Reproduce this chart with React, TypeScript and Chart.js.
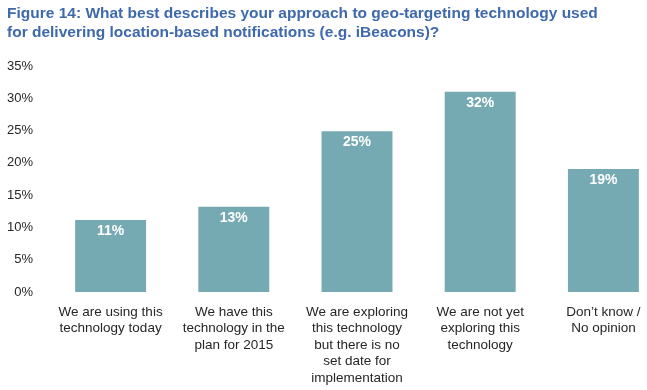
import React, { useEffect, useRef } from "react";
import { Chart, registerables } from "chart.js";

Chart.register(...registerables);

const titleLines = [
  "Figure 14: What best describes your approach to geo-targeting technology used",
  "for delivering location-based notifications (e.g. iBeacons)?",
];

const categories: string[][] = [
  ["We are using this", "technology today"],
  ["We have this", "technology in the", "plan for 2015"],
  ["We are exploring", "this technology", "but there is no", "set date for", "implementation"],
  ["We are not yet", "exploring this", "technology"],
  ["Don\u2019t know /", "No opinion"],
];

const values = [11.15, 13.2, 24.9, 31.0, 19.05];
const valueLabels = ["11%", "13%", "25%", "32%", "19%"];

const yTicks = { min: 0, max: 35, step: 5 };

const FONT = "'Liberation Sans', Arial, sans-serif";

const dataLabelPlugin = {
  id: "dataLabels",
  afterDatasetsDraw(chart: any) {
    const ctx = chart.ctx;
    const meta = chart.getDatasetMeta(0);
    ctx.save();
    ctx.fillStyle = "#ffffff";
    ctx.font = `bold 14px ${FONT}`;
    ctx.textAlign = "center";
    ctx.textBaseline = "middle";
    meta.data.forEach((el: any, i: number) => {
      ctx.fillText(valueLabels[i], el.x, el.y + 11);
    });
    ctx.restore();
  },
};

export default function App() {
  const ref = useRef<HTMLCanvasElement | null>(null);

  useEffect(() => {
    if (!ref.current) return;
    const chart = new Chart(ref.current, {
      type: "bar",
      data: {
        labels: categories,
        datasets: [
          {
            data: values,
            backgroundColor: "#76AAB3",
            borderWidth: 0,
            barPercentage: 0.576,
            categoryPercentage: 1,
          },
        ],
      },
      options: {
        animation: false,
        responsive: true,
        maintainAspectRatio: false,
        layout: { padding: { left: 7, right: 15, top: 0, bottom: 0 } },
        plugins: {
          legend: { display: false },
          tooltip: { enabled: false },
          title: {
            display: true,
            text: titleLines,
            align: "start",
            color: "#3E69AC",
            font: { family: FONT, size: 15.5, weight: "bold", lineHeight: 19.5 / 15.5 },
            padding: { top: 3.5, bottom: 23.5 },
          },
        },
        scales: {
          x: {
            grid: { display: false, drawTicks: false },
            border: { display: false },
            afterFit: (scale: any) => {
              scale.height = 98;
            },
            ticks: {
              autoSkip: false,
              maxRotation: 0,
              minRotation: 0,
              padding: 12,
              color: "#262626",
              font: { family: FONT, size: 13.5, lineHeight: 16.4 / 13.5 },
            },
          },
          y: {
            min: yTicks.min,
            max: yTicks.max,
            grid: { display: false, drawTicks: false },
            border: { display: false },
            afterFit: (scale: any) => {
              scale.width = 42;
            },
            ticks: {
              stepSize: yTicks.step,
              padding: 16,
              color: "#262626",
              font: { family: FONT, size: 13 },
              callback: (v: any) => `${v}%`,
            },
          },
        },
      },
      plugins: [dataLabelPlugin],
    });
    return () => chart.destroy();
  }, []);

  return (
    <div style={{ position: "absolute", left: 0, top: 0, width: 647, height: 390, overflow: "hidden", background: "#fff" }}>
      <div style={{ position: "relative", width: 680, height: 390 }}>
        <canvas ref={ref} />
      </div>
    </div>
  );
}
